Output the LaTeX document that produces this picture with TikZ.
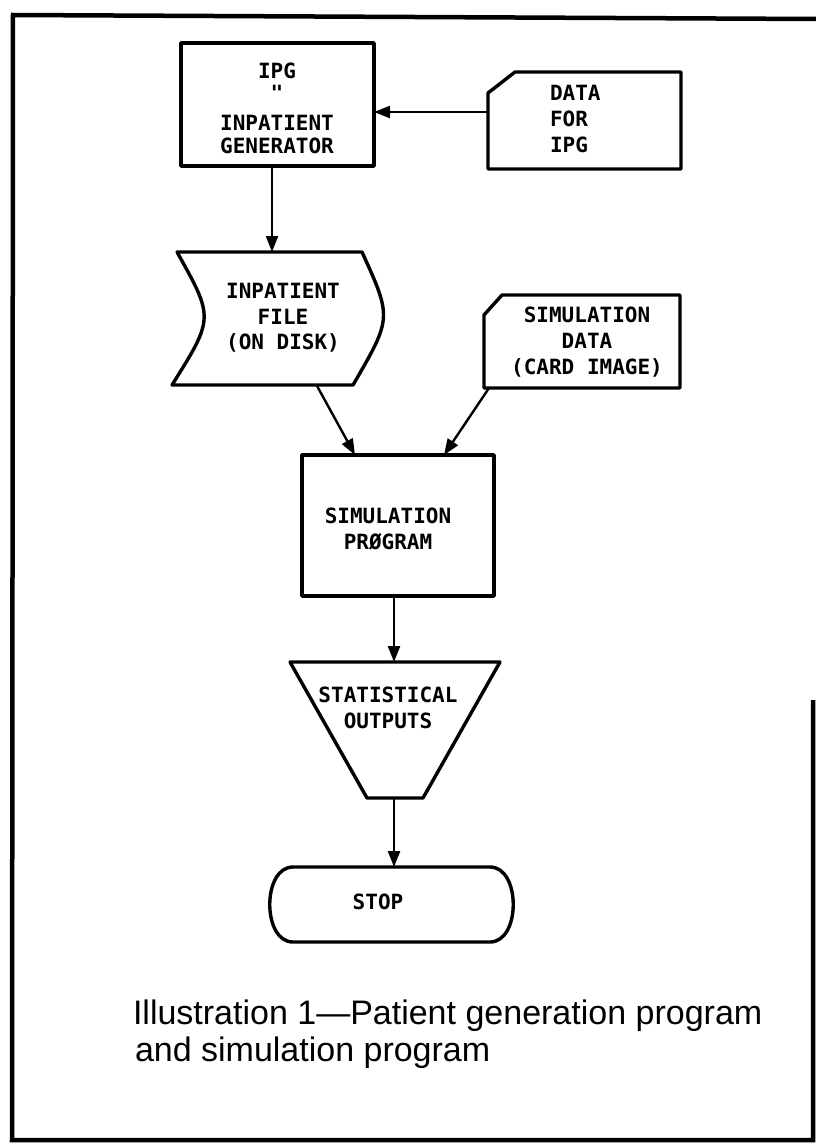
\documentclass[tikz,border=0pt]{standalone}
\usepackage{fontspec}
\usetikzlibrary{calc,arrows.meta}
\newfontfamily\boxfont{DejaVu Sans Mono}
\newfontfamily\capfont{Liberation Sans}
\tikzset{
  ph/.style={draw=none, inner sep=0pt, outer sep=0pt},
  shp/.style={draw, line width=3.4pt, line join=round},
  boxnode/.style={ph, shp},
  lbl/.style={inner sep=0pt, outer sep=0pt, align=center, font=\boxfont\bfseries\fontsize{21}{26}\selectfont},
  arr/.style={line width=2.4pt, -{Triangle[length=16pt,width=12pt]}},
  captext/.style={inner sep=0pt, outer sep=0pt, anchor=west, font=\capfont\fontsize{34}{40}\selectfont}
}
\begin{document}
\begin{tikzpicture}[x=1pt,y=-1pt]
\useasboundingbox (0,0) rectangle (816,1148);
% outer frame
\draw[line width=4.5pt] (816,19) -- (13,15) -- (12,1140) -- (813,1140) -- (813,700);

% IPG box
\node[boxnode, minimum width=193, minimum height=123] (ipg) at (277.5,104.5) {};
\node[lbl] (ipgt) at (277,108) {IPG\\[-4pt]{\char34}\\[4pt]INPATIENT\\[-3pt]GENERATOR};

% DATA card
\node[ph, minimum width=193, minimum height=97] (data) at (584.5,120.5) {};
\draw[shp] (data.south west) -- ($(data.north west)+(0,21)$) -- ($(data.north west)+(27,0)$) -- (data.north east) -- (data.south east) -- cycle;
\node[lbl, align=left, anchor=west] (datat) at (550,119) {DATA\\FOR\\IPG};

% Inpatient file (disk)
\node[ph, minimum width=185, minimum height=133] (file) at (269.5,318.5) {};
\draw[shp] (177,252) -- (362,252) .. controls (392,318) .. (353,385) -- (172,385) .. controls (214,318) .. cycle;
\node[lbl, font=\boxfont\bfseries\fontsize{21}{25.5}\selectfont] (filet) at (283,318) {INPATIENT\\FILE\\(ON DISK)};

% Simulation data card
\node[ph, minimum width=196, minimum height=93] (simd) at (582,341.5) {};
\draw[shp] (simd.south west) -- ($(simd.north west)+(0,20)$) -- ($(simd.north west)+(18,0)$) -- (simd.north east) -- (simd.south east) -- cycle;
\node[lbl] (simdt) at (587,342) {SIMULATION\\DATA\\(CARD IMAGE)};

% Simulation program
\node[boxnode, minimum width=192, minimum height=141] (sim) at (398,525.5) {};
\node[lbl] (simt) at (388,529) {SIMULATION\\PRØGRAM};

% Statistical outputs (trapezoid)
\node[ph, minimum width=210, minimum height=136] (stat) at (395,730) {};
\draw[shp] (stat.north west) -- (stat.north east) -- ($(stat.south east)+(-77,0)$) -- ($(stat.south west)+(77,0)$) -- cycle;
\node[lbl] (statt) at (388,708) {STATISTICAL\\OUTPUTS};

% STOP terminal
\node[ph, minimum width=241, minimum height=75] (stop) at (392.5,904.5) {};
\draw[shp] (293,867) -- (490,867) .. controls (521,867) and (521,942) .. (490,942) -- (293,942) .. controls (262,942) and (262,867) .. cycle;
\node[lbl] (stopt) at (378,902) {STOP};

% connectors
\draw[arr] ([yshift=8.5pt]data.west) -- ([yshift=8.5pt]data.west -| ipg.east);
\draw[arr] ([xshift=-5.5pt]ipg.south) -- ([xshift=-5.5pt]ipg.south |- file.north);
\draw[arr] ([xshift=47pt]file.south) -- ([xshift=-43pt]sim.north);
\draw[arr] ([xshift=5pt]simd.south west) -- ([xshift=46pt]sim.north);
\draw[arr] ([xshift=-4pt]sim.south) -- ([xshift=-4pt]sim.south |- stat.north);
\draw[arr] ([xshift=-1pt]stat.south) -- ([xshift=-1pt]stat.south |- stop.north);

% caption
\node[captext] (cap1) at (133,1016) {Illustration 1—Patient generation program};
\node[captext] (cap2) at (135,1053) {and simulation program};
\end{tikzpicture}
\end{document}
